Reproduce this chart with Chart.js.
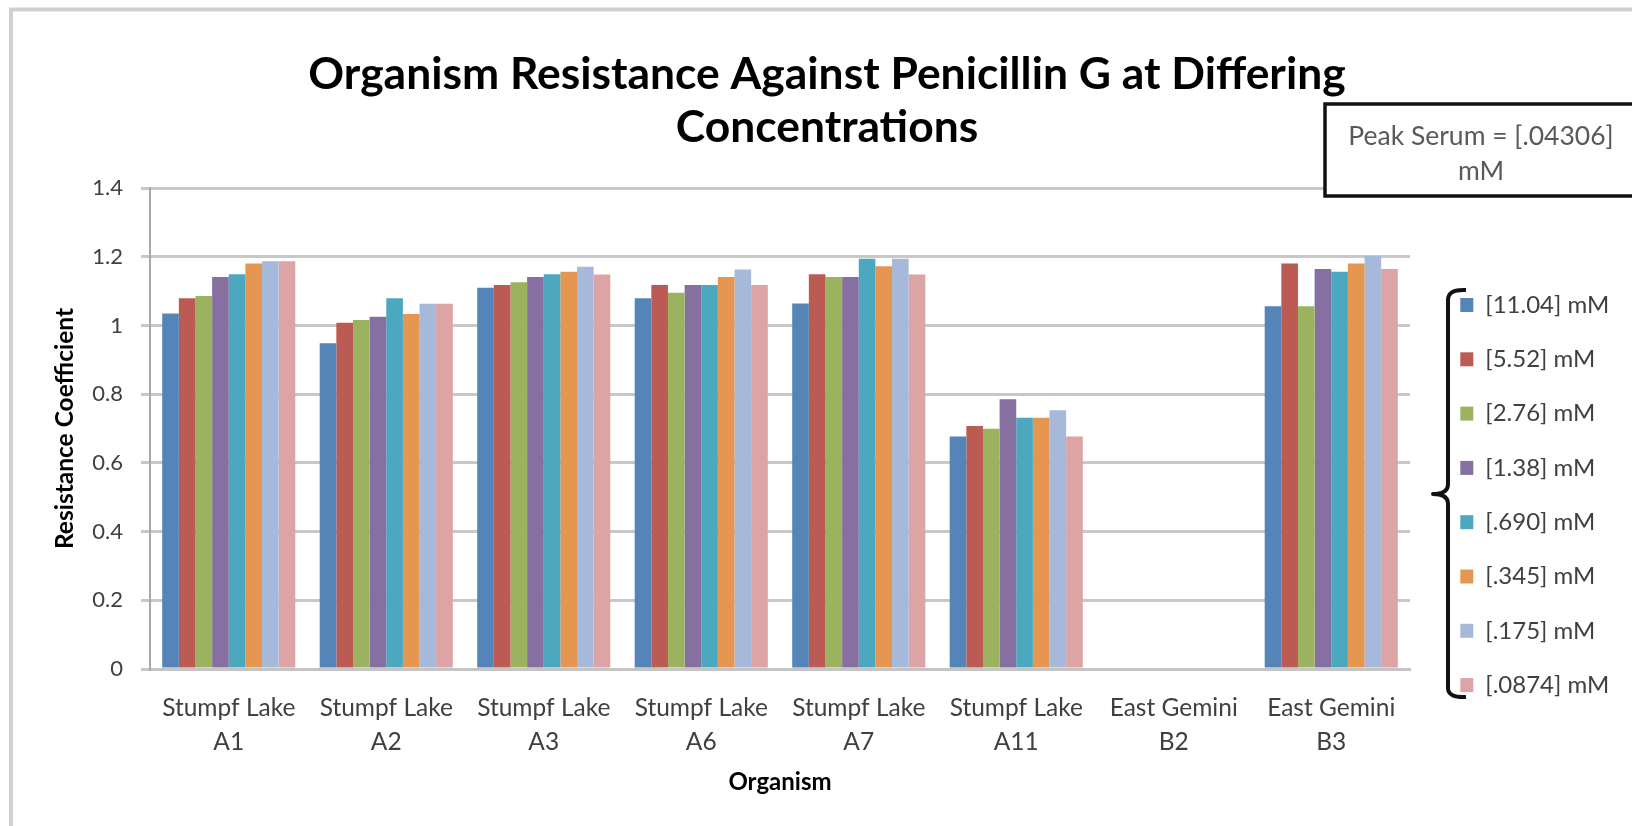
<!DOCTYPE html>
<html>
<head>
<meta charset="utf-8">
<title>Organism Resistance Against Penicillin G</title>
<script src="https://cdn.jsdelivr.net/npm/chart.js@4.4.1/dist/chart.umd.min.js"></script>
<style>
  html, body { margin: 0; padding: 0; background: #ffffff; }
  canvas { display: block; }
</style>
</head>
<body>
<canvas id="chart" width="1632" height="826"></canvas>
<script>
// Organisms tested (site name, isolate code)
const sites = ['Stumpf Lake', 'Stumpf Lake', 'Stumpf Lake', 'Stumpf Lake', 'Stumpf Lake', 'Stumpf Lake', 'East Gemini', 'East Gemini'];
const isolates = ['A1', 'A2', 'A3', 'A6', 'A7', 'A11', 'B2', 'B3'];

// Penicillin G concentrations
const concentrations = ['[11.04] mM', '[5.52] mM', '[2.76] mM', '[1.38] mM', '[.690] mM', '[.345] mM', '[.175] mM', '[.0874] mM'];

// Resistance coefficient per organism (A1, A2, A3, A6, A7, A11, B2, B3); B2 has no measurements
const conc1104 = [1.035, 0.948, 1.110, 1.079, 1.064, 0.677, null, 1.056];
const conc552  = [1.079, 1.008, 1.118, 1.118, 1.149, 0.707, null, 1.180];
const conc276  = [1.086, 1.016, 1.126, 1.095, 1.141, 0.699, null, 1.056];
const conc138  = [1.141, 1.025, 1.141, 1.118, 1.141, 0.785, null, 1.164];
const conc0690 = [1.149, 1.079, 1.149, 1.118, 1.194, 0.731, null, 1.156];
const conc0345 = [1.180, 1.033, 1.156, 1.141, 1.172, 0.731, null, 1.180];
const conc0175 = [1.187, 1.063, 1.171, 1.163, 1.194, 0.753, null, 1.202];
const conc0874 = [1.187, 1.063, 1.148, 1.118, 1.148, 0.677, null, 1.164];

const yTickLabels = ['0', '0.2', '0.4', '0.6', '0.8', '1', '1.2', '1.4'];

const chartTitle = ['Organism Resistance Against Penicillin G at Differing', 'Concentrations'];
const yTitle = 'Resistance Coefficient';
const xTitle = 'Organism';
const peakNote = ['Peak Serum = [.04306]', 'mM'];

const seriesValues = [conc1104, conc552, conc276, conc138, conc0690, conc0345, conc0175, conc0874];
const seriesColors = ['#5584B8', '#BC5B53', '#9BB35E', '#8570A1', '#4CA8BF', '#E59751', '#A6B9DA', '#DCA4A4'];

const FONT = 'Lato, "Open Sans", sans-serif';
const TEXT_GRAY = '#404040';

// Page frame, annotation box and legend brace
const decorations = {
  id: 'decorations',
  beforeDraw(chart) {
    const ctx = chart.ctx;
    ctx.save();
    ctx.fillStyle = '#ffffff';
    ctx.fillRect(0, 0, chart.width, chart.height);
    ctx.strokeStyle = '#d0d0d0';
    ctx.lineWidth = 4;
    ctx.strokeRect(11, 9.5, chart.width + 40, chart.height + 40);
    ctx.restore();
  },
  afterDraw(chart) {
    const ctx = chart.ctx;
    ctx.save();
    // annotation box
    ctx.fillStyle = '#ffffff';
    ctx.fillRect(1325, 104, 320, 92);
    ctx.strokeStyle = '#111111';
    ctx.lineWidth = 3.5;
    ctx.strokeRect(1325, 104, 320, 92);
    ctx.fillStyle = '#595959';
    ctx.font = '26.5px ' + FONT;
    ctx.textAlign = 'center';
    ctx.textBaseline = 'middle';
    ctx.fillText(peakNote[0], 1481, 136);
    ctx.fillText(peakNote[1], 1481, 171);

    // brace grouping the legend
    ctx.strokeStyle = '#111111';
    ctx.lineWidth = 4;
    ctx.lineJoin = 'round';
    ctx.beginPath();
    ctx.moveTo(1466, 290);
    ctx.quadraticCurveTo(1448, 289, 1448, 300);
    ctx.lineTo(1448, 484);
    ctx.quadraticCurveTo(1448, 494, 1433, 494);
    ctx.quadraticCurveTo(1448, 494, 1448, 504);
    ctx.lineTo(1448, 688);
    ctx.quadraticCurveTo(1448, 698, 1466, 697);
    ctx.stroke();
    ctx.restore();
  }
};

// Fixed legend column width so the plot edge stays put
const legendWidthPlugin = {
  id: 'legendWidth',
  afterInit(chart) {
    const lg = chart.legend;
    if (!lg) return;
    const fit = lg.fit;
    lg.fit = function () {
      fit.call(this);
      this.width = 202;
    };
  }
};

const datasets = concentrations.map((label, i) => ({
  label: label,
  data: seriesValues[i],
  backgroundColor: seriesColors[i],
  borderWidth: 0,
  categoryPercentage: 0.845,
  barPercentage: 1.0
}));

new Chart(document.getElementById('chart'), {
  type: 'bar',
  data: {
    labels: sites.map((s, i) => [s, isolates[i]]),
    datasets: datasets
  },
  plugins: [decorations, legendWidthPlugin],
  options: {
    responsive: false,
    animation: false,
    devicePixelRatio: 1,
    layout: { padding: { left: 22, right: 0, top: 0, bottom: 0 } },
    plugins: {
      tooltip: { enabled: false },
      title: {
        display: true,
        text: chartTitle,
        color: '#000000',
        font: { family: FONT, size: 44.4, weight: 'bold', lineHeight: '53px' },
        padding: { top: 48.5, bottom: 33.5 }
      },
      legend: {
        display: true,
        position: 'right',
        align: 'start',
        title: {
          display: true,
          text: ' ',
          color: 'rgba(0,0,0,0)',
          font: { size: 10, lineHeight: '12px' },
          padding: { top: 250.7, bottom: 0 }
        },
        labels: {
          boxWidth: 13,
          boxHeight: 14,
          padding: 30.3,
          color: TEXT_GRAY,
          font: { family: FONT, size: 24 }
        }
      }
    },
    scales: {
      x: {
        grid: { display: false, drawTicks: false },
        border: { display: true, color: '#c4c4c4', width: 3 },
        ticks: {
          color: TEXT_GRAY,
          padding: 22,
          maxRotation: 0,
          autoSkip: false,
          font: { family: FONT, size: 24.5, lineHeight: '34px' }
        },
        title: {
          display: true,
          text: xTitle,
          color: '#000000',
          font: { family: FONT, size: 24, weight: 'bold' },
          padding: { top: 0, bottom: 29.6 }
        },
        afterFit(scale) { scale.height = 157; }
      },
      y: {
        min: 0,
        max: 1.4,
        grid: {
          color: '#c8c8c8',
          lineWidth: 3,
          tickLength: 9,
          tickColor: '#c8c8c8'
        },
        border: { display: true, color: '#a8a8a8', width: 2 },
        ticks: {
          stepSize: 0.2,
          padding: 18,
          color: TEXT_GRAY,
          font: { family: FONT, size: 22 },
          callback: (value, index) => yTickLabels[index]
        },
        title: {
          display: true,
          text: yTitle,
          color: '#000000',
          font: { family: FONT, size: 24.5, weight: 'bold' },
          padding: { top: 28.3, bottom: 0 }
        },
        afterFit(scale) { scale.width = 128; }
      },
      gap: {
        type: 'linear',
        position: 'right',
        display: true,
        grid: { display: false, drawTicks: false },
        border: { display: false },
        ticks: { display: false },
        afterFit(scale) { scale.width = 20; }
      }
    }
  }
});
</script>
</body>
</html>
